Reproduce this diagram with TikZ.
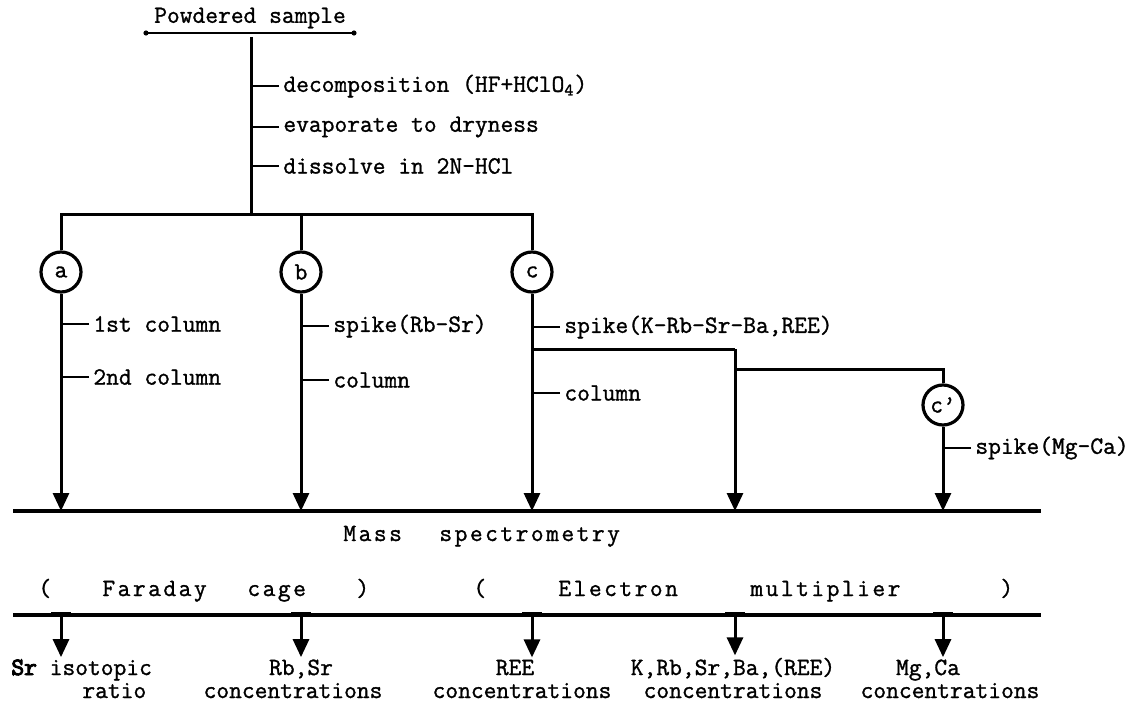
\documentclass[tikz,border=0pt]{standalone}
\usepackage{fontspec}
\setmonofont{Latin Modern Mono}[FakeBold=1.2, BoldFont={Latin Modern Mono}, BoldFeatures={FakeBold=4}]
\newfontfamily\wideface{Latin Modern Mono}[LetterSpace=10, FakeBold=1.2]
\usetikzlibrary{arrows.meta}

\tikzset{
  txt/.style={font=\ttfamily\fontsize{12.4}{14}\selectfont, inner sep=1pt},
  note/.style={txt, anchor=west, inner xsep=2pt},
  wide/.style={font=\wideface\fontsize{12.4}{14}\selectfont, inner sep=1pt, anchor=base west},
  smp/.style={circle, draw, line width=1.6pt, minimum size=20pt, inner sep=0pt,
    font=\ttfamily\fontsize{12.4}{14}\selectfont},
  flow/.style={line width=1.5pt},
  tk/.style={line width=1.3pt},
  down/.style={line width=1.5pt, -{Triangle[width=8pt,length=9pt]}},
  msline/.style={line width=2pt},
}

\begin{document}
\begin{tikzpicture}[x=0.5pt,y=-0.5pt]
\useasboundingbox (0,0) rectangle (1137,706);

% sample and digestion
\node[txt] (pow) at (250,18) {Powdered sample};
\coordinate (ul) at (146,33);
\coordinate (ur) at (354,33);
\draw[line width=0.8pt] (ul) -- (ur);
\fill (ul) circle (1.3pt);
\fill (ur) circle (1.3pt);
\coordinate (top) at (251,37);
\coordinate (split) at (251,215);
\draw[flow] (top) -- (split);
\node[note] (dec) at (279,86) {decomposition (HF+HClO\textsubscript{4})};
\node[note] (evap) at (279,127) {evaporate to dryness};
\node[note] (diss) at (279,166) {dissolve in 2N-HCl};
\draw[tk] (dec.west) -- ++(-28,0);
\draw[tk] (evap.west) -- ++(-28,0);
\draw[tk] (diss.west) -- ++(-28,0);

% three aliquots
\node[smp] (sa) at (61,272) {a};
\node[smp] (sb) at (301,272) {b};
\node[smp] (sc) at (532,272) {c};
\node[smp] (scp) at (943,405) {c\textquoteright};
\coordinate (bl) at (61,215);
\coordinate (br) at (532,215);
\draw[flow] (sa) -- (bl) -- (br) -- (sc);
\draw[flow] (sb) -- (sb |- bl);

\node[note] (acol1) at (89,324) {1st column};
\node[note] (acol2) at (89,377) {2nd column};
\node[note] (bspk) at (329,326) {spike(Rb-Sr)};
\node[note] (bcol) at (329,380) {column};
\node[note] (cspk) at (560,327) {spike(K-Rb-Sr-Ba,REE)};
\node[note] (ccol) at (560,393) {column};
\node[note] (cpspk) at (971,448) {spike(Mg-Ca)};
\draw[tk] (acol1.west) -- ++(-28,0);
\draw[tk] (acol2.west) -- ++(-28,0);
\draw[tk] (bspk.west) -- ++(-28,0);
\draw[tk] (bcol.west) -- ++(-28,0);
\draw[tk] (cspk.west) -- ++(-28,0);
\draw[tk] (ccol.west) -- ++(-28,0);
\draw[tk] (cpspk.west) -- ++(-28,0);

% branch of c
\coordinate (cj) at (532,349);
\coordinate (dj) at (735,349);
\coordinate (dk) at (735,369);
\coordinate (ek) at (943,369);
\draw[flow] (cj) -- (dj);
\draw[flow] (dk) -- (ek) -- (scp);

% mass spectrometry
\coordinate (msl) at (13,511);
\coordinate (msr) at (1041,511);
\draw[msline] (msl) -- (msr);
\draw[down] (sa) -- (sa |- msl);
\draw[down] (sb) -- (sb |- msl);
\draw[down] (sc) -- (sc |- msl);
\draw[down] (dj) -- (dj |- msl);
\draw[down] (scp) -- (scp |- msl);

\node[wide] (mass) at (341,541) {Mass};
\node[wide] (spec) at (437,541) {spectrometry};
\node[wide] (fl) at (36,596) {(};
\node[wide] (fara) at (100,596) {Faraday};
\node[wide] (cage) at (245,596) {cage};
\node[wide] (fr) at (354,596) {)};
\node[wide] (el) at (471,596) {(};
\node[wide] (elec) at (556,596) {Electron};
\node[wide] (mult) at (748,596) {multiplier};
\node[wide] (er) at (998,596) {)};

\coordinate (bsl) at (13,615);
\coordinate (bsr) at (1041,615);
\draw[msline] (bsl) -- (bsr);

% results
\node[txt, anchor=base west] (sriso) at (9,675) {\textbf{Sr} isotopic};
\node[txt, anchor=base west] (ratio) at (80,698) {ratio};
\node[txt, anchor=base] (rbsr) at (301,675) {Rb,Sr};
\node[txt, anchor=base] (conb) at (293,698) {concentrations};
\node[txt, anchor=base] (ree) at (515,675) {REE};
\node[txt, anchor=base] (conc) at (522,698) {concentrations};
\node[txt, anchor=base] (krb) at (733,675) {K,Rb,Sr,Ba,(REE)};
\node[txt, anchor=base] (cond) at (733,698) {concentrations};
\node[txt, anchor=base] (mgca) at (928,675) {Mg,Ca};
\node[txt, anchor=base] (cone) at (950,698) {concentrations};

\draw[flow] (sa |- bsl) ++(-10,-2) -- ++(20,0);
\draw[flow] (sb |- bsl) ++(-10,-2) -- ++(20,0);
\draw[flow] (sc |- bsl) ++(-10,-2) -- ++(20,0);
\draw[flow] (dj |- bsl) ++(-10,-2) -- ++(20,0);
\draw[flow] (scp |- bsl) ++(-10,-2) -- ++(20,0);
\draw[down] (sa |- bsl) -- (sa |- sriso.north);
\draw[down] (sb |- bsl) -- (sb |- rbsr.north);
\draw[down] (sc |- bsl) -- (sc |- ree.north);
\draw[down] (dj |- bsl) -- (dj |- krb.north);
\draw[down] (scp |- bsl) -- (scp |- mgca.north);
\end{tikzpicture}
\end{document}
